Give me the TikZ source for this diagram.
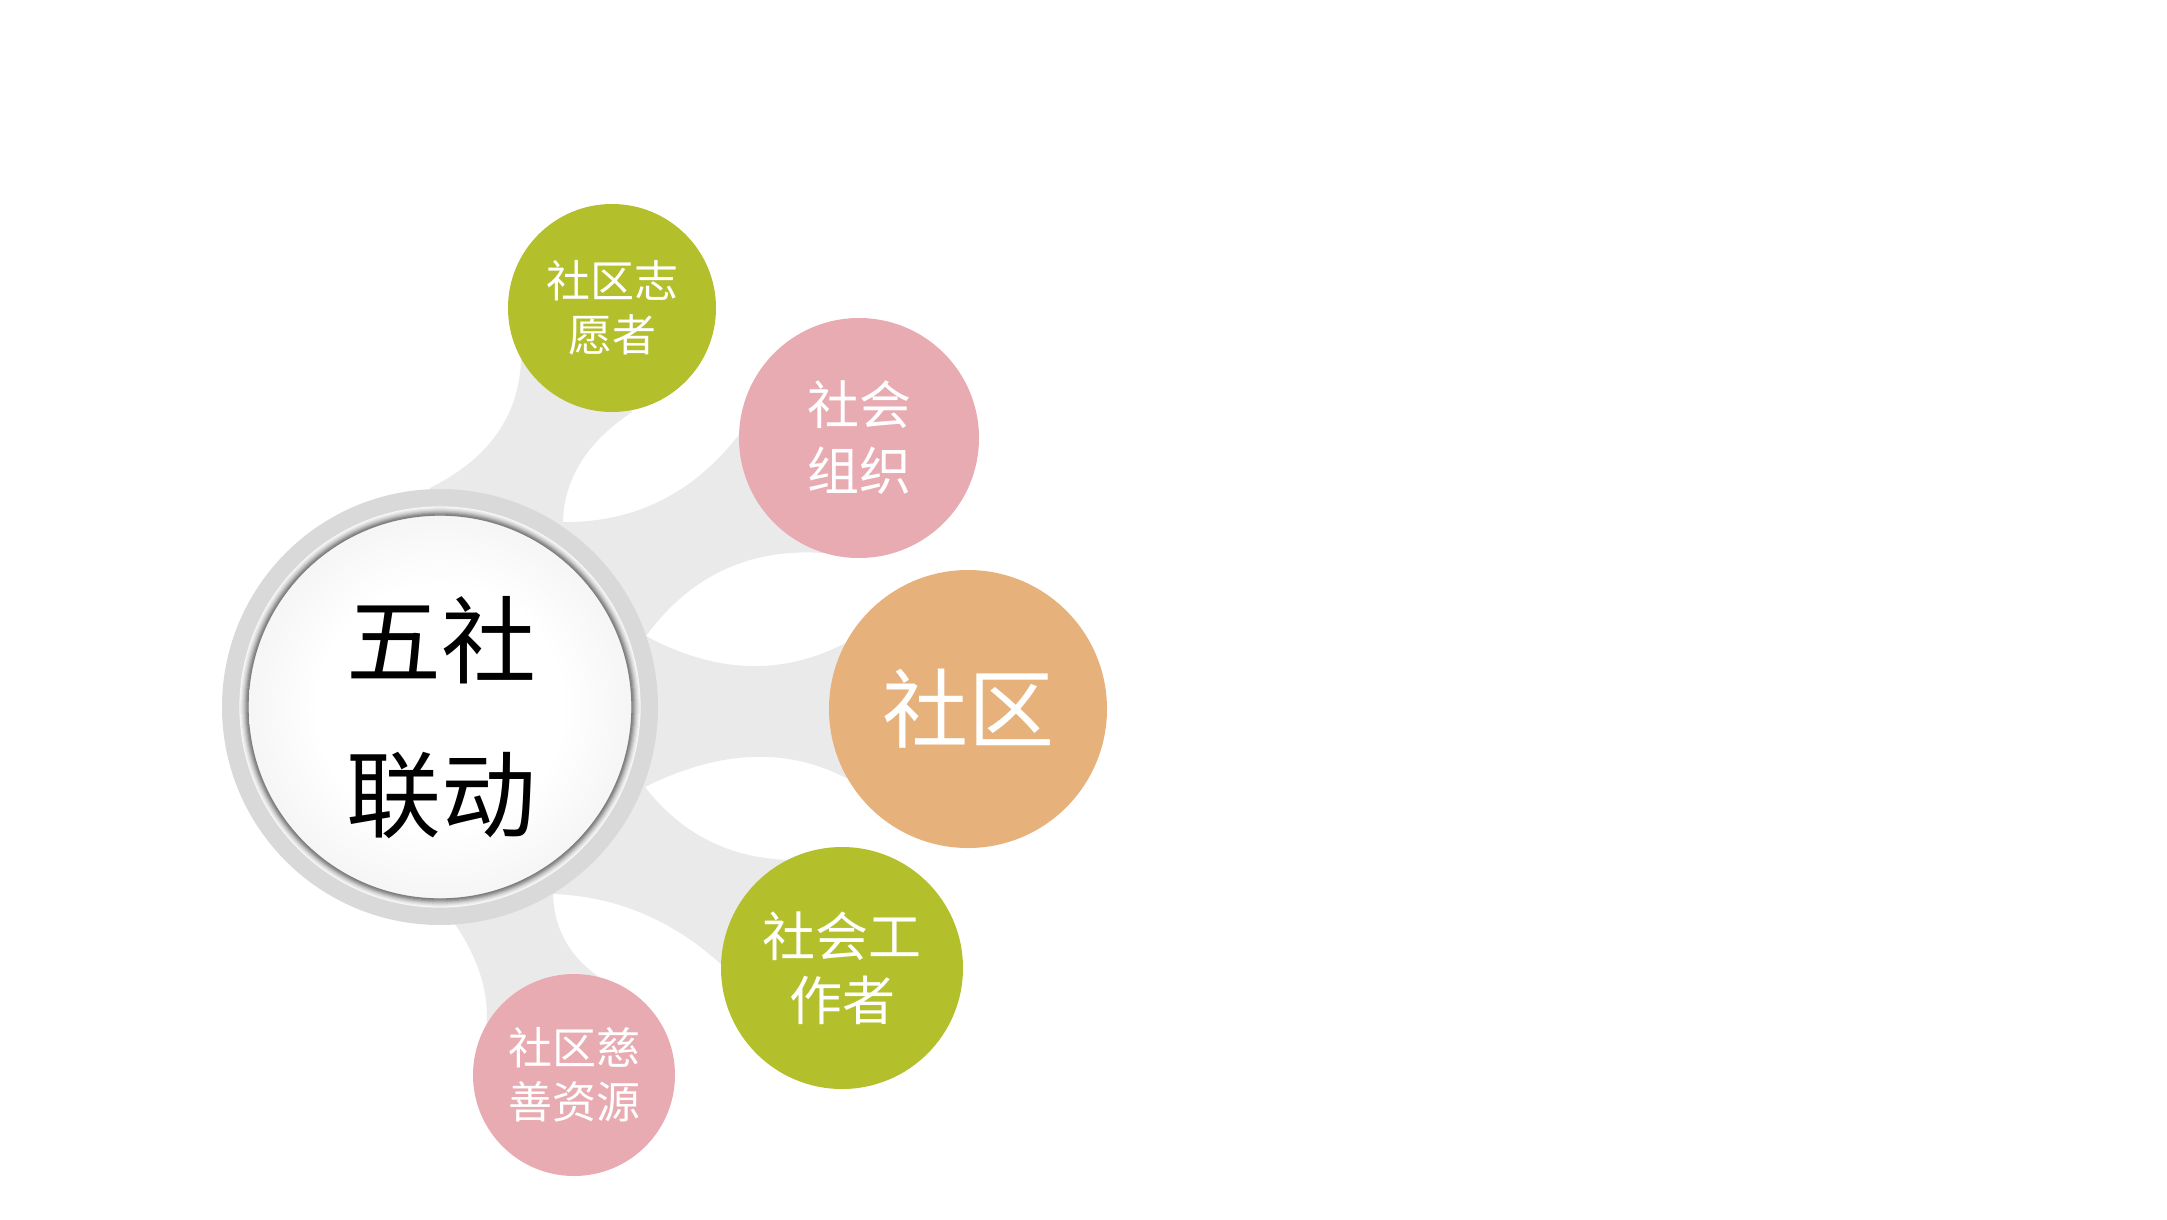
\documentclass[tikz,border=0pt]{standalone}
\usepackage{fontspec}
\newfontfamily\cjkfont{Noto Sans CJK SC}
\definecolor{cgreen}{HTML}{B3BF2B}
\definecolor{cpink}{HTML}{E8ABB2}
\definecolor{corange}{HTML}{E6B17B}
\definecolor{cconn}{HTML}{EAEAEA}
\definecolor{cring}{HTML}{D9D9D9}
\pgfdeclareradialshading{ballshade}{\pgfpoint{0bp}{0bp}}{color(0bp)=(white); color(16bp)=(white); color(50bp)=(white!86!black)}
\pgfdeclarelayer{bg}
\pgfsetlayers{bg,main}
\begin{document}
\begin{tikzpicture}[x=1pt,y=-1pt,
  sat/.style={circle, inner sep=0pt, text=white, align=center},
  conn/.style={fill=cconn},
  rim/.style={line width=1.3pt}
]
\useasboundingbox (0,0) rectangle (2167,1219);

% centre
\node[circle, fill=cring, minimum size=436, inner sep=0pt] (ring) at (440,707) {};
\foreach \r/\c in {200/black!3, 199/black!6, 198/black!10, 197/black!15, 196/black!21, 195/black!28, 194/black!36, 193/black!44, 192/black!50}
  \draw[rim, draw=\c] (ring.center) circle[radius=\r];
\node[circle, shading=ballshade, minimum size=382, inner sep=0pt] (ball) at (ring.center) {};
\node[font=\cjkfont\fontsize{95}{154}\selectfont, align=center] (title) at (441,718) {五社\\联动};

% satellites
\node[sat, fill=cgreen, minimum size=208, font=\cjkfont\fontsize{44}{54}\selectfont] (g1) at (612,308) {社区志\\愿者};
\node[sat, fill=cpink, minimum size=240, font=\cjkfont\fontsize{52}{66}\selectfont] (p1) at (859,438) {社会\\组织};
\node[sat, fill=corange, minimum size=278, font=\cjkfont\fontsize{86}{100}\selectfont] (or) at (968,709) {社区};
\node[sat, fill=cgreen, minimum size=242, font=\cjkfont\fontsize{53}{64}\selectfont] (g2) at (842,968) {社会工\\作者};
\node[sat, fill=cpink, minimum size=202, font=\cjkfont\fontsize{44}{54}\selectfont] (p2) at (574,1075) {社区慈\\善资源};

% connectors
\begin{pgfonlayer}{bg}
\coordinate (c1) at (563,522);
\coordinate (c2) at (646,636);
\coordinate (c3) at (645,787);
\coordinate (c4) at (553,894);
\coordinate (e1) at (430,488);
\coordinate (e2) at (455,924);
\fill[conn] (ring.center) -- (e1) .. controls (488.7,458.7) and (519,416) .. (521,360)
  -- (g1.center) -- (632,412) .. controls (587,442) and (564,478.7) .. (c1) -- cycle;
\fill[conn] (ring.center) -- (c1) .. controls (635.7,522.7) and (695,492.7) .. (741,432)
  -- (p1.center) -- (823,553) .. controls (749.3,548) and (690.3,575.7) .. (c2) -- cycle;
\fill[conn] (ring.center) -- (c2) .. controls (717.7,674.7) and (786,676) .. (851,640)
  -- (or.center) -- (846,778) .. controls (786.3,747) and (719.3,750) .. (c3) -- cycle;
\fill[conn] (ring.center) -- (c3) .. controls (682,834.7) and (731,859) .. (792,860)
  -- (g2.center) -- (724,967) .. controls (674.3,920.7) and (617.3,896.3) .. (c4) -- cycle;
\fill[conn] (ring.center) -- (c4) .. controls (554,929.7) and (570.3,958) .. (602,979)
  -- (p2.center) -- (483,1045) .. controls (492.9,1006.7) and (483.5,966.3) .. (e2) -- cycle;
\end{pgfonlayer}
\end{tikzpicture}
\end{document}
